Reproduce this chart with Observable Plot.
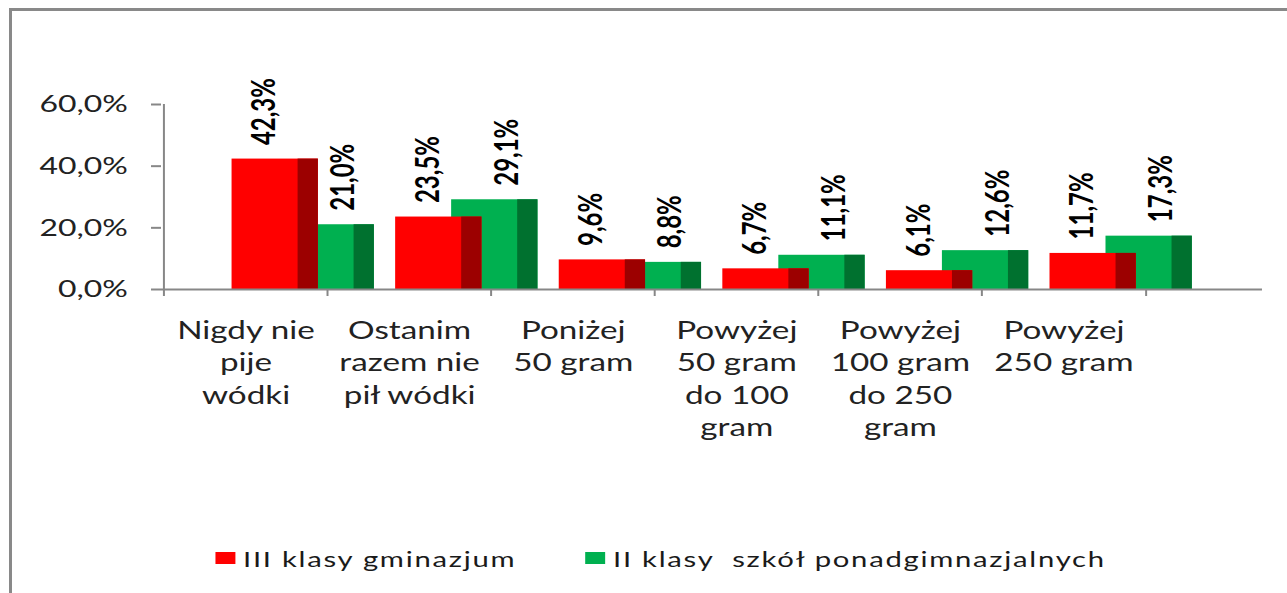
<!DOCTYPE html>
<html><head><meta charset="utf-8">
<script src="https://cdn.jsdelivr.net/npm/d3@7"></script>
<script src="https://cdn.jsdelivr.net/npm/@observablehq/plot@0.6"></script>
<style>
html,body{margin:0;padding:0;background:#fff;overflow:hidden;width:1287px;height:593px;}
#frame{position:absolute;left:9px;top:8px;width:1400px;height:700px;border:3px solid #898989;}
#wrap{position:absolute;left:0;top:0;width:968px;height:593px;transform:scaleX(1.33);transform-origin:0 0;}
#chart svg{display:block;overflow:visible;font-family:Lato,sans-serif;background:none;}
.sw{position:absolute;top:552px;width:15px;height:12px;}
.lt{position:absolute;top:547.5px;font:22px/22px Lato,sans-serif;letter-spacing:1.3px;color:#1a1a1a;white-space:pre;}
</style></head><body>
<div id="frame"></div>
<div id="wrap"><div id="chart"></div><div id="legend"></div></div>
<script>
const categories = ["Nigdy nie\npije\nwódki", "Ostanim\nrazem nie\npił wódki", "Poniżej\n50 gram", "Powyżej\n50 gram\ndo 100\ngram", "Powyżej\n100 gram\ndo 250\ngram", "Powyżej\n250 gram"];
const gimnazjum = [42.3, 23.5, 9.6, 6.7, 6.1, 11.7];
const ponadgimnazjalne = [21.0, 29.1, 8.8, 11.1, 12.6, 17.3];
const yTicks = [0, 20, 40, 60];
const seriesNames = ["III klasy gminazjum", "II klasy  szkół ponadgimnazjalnych"];
const RED = "#ff0000", RED_DARK = "#9c0000", GREEN = "#00b050", GREEN_DARK = "#00712f";
const AXIS = "#878787";

const rows = categories.map((cat, i) => ({cat, red: gimnazjum[i], green: ponadgimnazjalne[i]}));
const fmt = v => v.toFixed(1).replace(".", ",") + "%";

const band = 123.5, half = band / 2;
const frontL = 51.1, sideL = 100.75, sideR = 7.0, shift = 42.1;

const chart = Plot.plot({
  width: 968, height: 520,
  marginLeft: 121.05, marginRight: 105.95, marginTop: 104, marginBottom: 231,
  x: {type: "band", domain: categories, padding: 0},
  y: {domain: [0, 60]},
  marks: [
    Plot.barY(rows, {x: "cat", y: "green", fill: GREEN, insetLeft: frontL, insetRight: sideR, dx: shift}),
    Plot.barY(rows, {x: "cat", y: "green", fill: GREEN_DARK, insetLeft: sideL, insetRight: sideR, dx: shift}),
    Plot.barY(rows, {x: "cat", y: "red", fill: RED, insetLeft: frontL, insetRight: sideR}),
    Plot.barY(rows, {x: "cat", y: "red", fill: RED_DARK, insetLeft: sideL, insetRight: sideR}),
    Plot.text(rows, {x: "cat", y: "red", text: d => fmt(d.red), rotate: -90, textAnchor: "start", lineAnchor: "middle",
      dx: 14.2, dy: -14, fontSize: 24, fontWeight: "bold", fontFamily: "Lato", fill: "#000"}),
    Plot.text(rows, {x: "cat", y: "green", text: d => fmt(d.green), rotate: -90, textAnchor: "start", lineAnchor: "middle",
      dx: 73.6, dy: -14, fontSize: 24, fontWeight: "bold", fontFamily: "Lato", fill: "#000"}),
    Plot.ruleX([categories[0]], {x: d => d, dx: -half, y1: 0, y2: 60, stroke: AXIS, strokeWidth: 1.5}),
    Plot.ruleX(categories, {x: d => d, dx: -half, y1: 0, y2: 0, insetBottom: -7, stroke: AXIS, strokeWidth: 1.5}),
    Plot.ruleX([categories[categories.length - 1]], {x: d => d, dx: half, y1: 0, y2: 0, insetBottom: -7, stroke: AXIS, strokeWidth: 1.5}),
    Plot.ruleY([0], {stroke: AXIS, strokeWidth: 2, insetRight: -86.8}),
    Plot.axisY({ticks: yTicks, tickFormat: fmt, tickSize: 7.5, tickPadding: 18, fontSize: 24, stroke: AXIS, strokeWidth: 2, fill: "#222", label: null}),
    Plot.axisX({tickSize: 0, tickPadding: 26, fontSize: 25, lineHeight: 1.3, fill: "#222", label: null})
  ]
});
document.getElementById("chart").appendChild(chart);

const legend = document.getElementById("legend");
const items = [
  {name: seriesNames[0], color: RED, sw: 161.7, tx: 182.7},
  {name: seriesNames[1], color: GREEN, sw: 439.85, tx: 460.9}
];
for (const it of items) {
  const s = document.createElement("div");
  s.className = "sw"; s.style.left = it.sw + "px"; s.style.background = it.color;
  legend.appendChild(s);
  const t = document.createElement("div");
  t.className = "lt"; t.style.left = it.tx + "px"; t.textContent = it.name;
  legend.appendChild(t);
}
</script>
</body></html>
